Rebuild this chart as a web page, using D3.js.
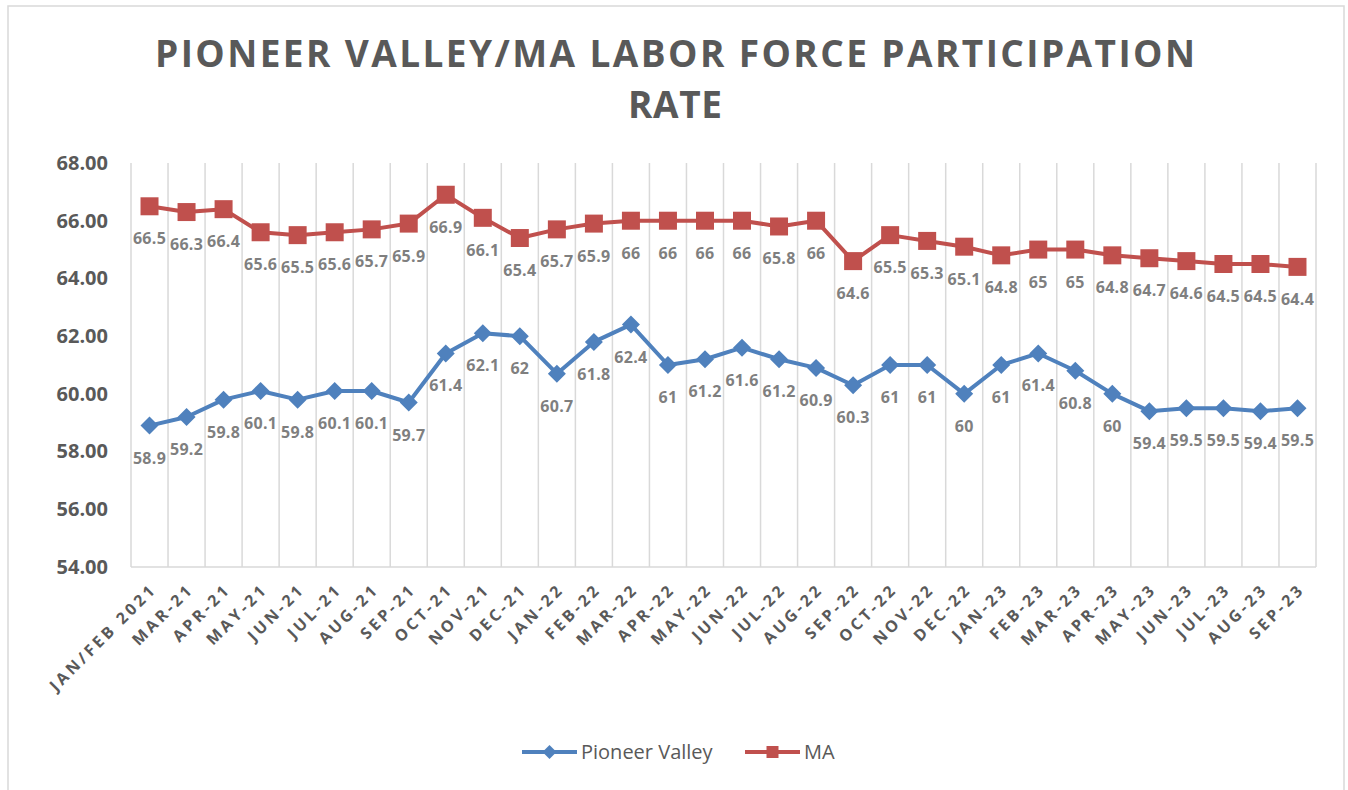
<!DOCTYPE html>
<html>
<head>
<meta charset="utf-8">
<script src="https://cdn.jsdelivr.net/npm/d3@7"></script>
<style>
  body { margin: 0; background: #fff; }
  svg { display: block; font-family: "Open Sans", "Noto Sans", sans-serif; }
</style>
</head>
<body>
<svg id="chart" width="1348" height="790"></svg>
<script>
// data
var months = ["JAN/FEB 2021", "MAR-21", "APR-21", "MAY-21", "JUN-21", "JUL-21", "AUG-21", "SEP-21",
  "OCT-21", "NOV-21", "DEC-21", "JAN-22", "FEB-22", "MAR-22", "APR-22", "MAY-22", "JUN-22", "JUL-22",
  "AUG-22", "SEP-22", "OCT-22", "NOV-22", "DEC-22", "JAN-23", "FEB-23", "MAR-23", "APR-23", "MAY-23",
  "JUN-23", "JUL-23", "AUG-23", "SEP-23"];
var pioneerValley = [58.9, 59.2, 59.8, 60.1, 59.8, 60.1, 60.1, 59.7, 61.4, 62.1, 62, 60.7, 61.8, 62.4,
  61, 61.2, 61.6, 61.2, 60.9, 60.3, 61, 61, 60, 61, 61.4, 60.8, 60, 59.4, 59.5, 59.5, 59.4, 59.5];
var ma = [66.5, 66.3, 66.4, 65.6, 65.5, 65.6, 65.7, 65.9, 66.9, 66.1, 65.4, 65.7, 65.9, 66, 66, 66,
  66, 65.8, 66, 64.6, 65.5, 65.3, 65.1, 64.8, 65, 65, 64.8, 64.7, 64.6, 64.5, 64.5, 64.4];
var yTicks = [54, 56, 58, 60, 62, 64, 66, 68];
var titleLines = ["PIONEER VALLEY/MA LABOR FORCE PARTICIPATION", "RATE"];

var svg = d3.select("#chart");
var textDark = "#595959", labelGrey = "#7f7f7f", gridCol = "#d9d9d9";
var blue = "#4f81bd", red = "#c0504d";

// outer chart border
svg.append("rect")
  .attr("x", 8).attr("y", 6).attr("width", 1336).attr("height", 800)
  .attr("fill", "none").attr("stroke", gridCol).attr("stroke-width", 1.5);

// title
svg.append("text")
  .attr("x", 675).attr("y", 67)
  .attr("text-anchor", "middle")
  .attr("font-size", 37).attr("font-weight", "bold").attr("fill", textDark)
  .attr("textLength", 1040).attr("lengthAdjust", "spacing")
  .text(titleLines[0]);
svg.append("text")
  .attr("x", 675).attr("y", 118)
  .attr("text-anchor", "middle")
  .attr("font-size", 37).attr("font-weight", "bold").attr("fill", textDark)
  .attr("textLength", 94).attr("lengthAdjust", "spacing")
  .text(titleLines[1]);

var x = d3.scaleBand().domain(months).range([131, 1316]);
var y = d3.scaleLinear().domain([54, 68]).range([567, 163]);
var cx = function(d, i) { return x(months[i]) + x.bandwidth() / 2; };

// vertical gridlines at category edges
var edges = months.map(function(m) { return x(m); }).concat([x.range()[1]]);
svg.append("g")
  .selectAll("line")
  .data(edges)
  .enter().append("line")
    .attr("x1", function(d) { return d; }).attr("x2", function(d) { return d; })
    .attr("y1", y(68)).attr("y2", y(54))
    .attr("stroke", gridCol).attr("stroke-width", 1.5);
svg.append("line")
  .attr("x1", x.range()[0]).attr("x2", x.range()[1])
  .attr("y1", y(54)).attr("y2", y(54))
  .attr("stroke", gridCol).attr("stroke-width", 1.5);

// y axis
var yAxis = svg.append("g")
  .attr("transform", "translate(112,0)")
  .call(d3.axisLeft(y).tickValues(yTicks).tickFormat(d3.format(".2f")).tickSize(0));
yAxis.select(".domain").remove();
yAxis.selectAll("text")
  .attr("x", -4)
  .attr("font-family", "'Open Sans', sans-serif")
  .attr("font-size", 20).attr("font-weight", "bold").attr("fill", textDark);

// x axis, rotated labels
var xAxis = svg.append("g")
  .attr("transform", "translate(0," + (y(54) + 18) + ")")
  .call(d3.axisBottom(x).tickSize(0));
xAxis.select(".domain").remove();
xAxis.selectAll("text")
  .attr("font-family", "'Open Sans', sans-serif")
  .attr("font-size", 16).attr("font-weight", "bold").attr("fill", textDark)
  .attr("letter-spacing", 3.2)
  .style("text-anchor", "end")
  .attr("x", 2).attr("y", 0).attr("dy", "0.6em")
  .attr("transform", "rotate(-45)");

var line = d3.line()
  .x(cx)
  .y(function(d) { return y(d); });

function drawSeries(values, color, marker) {
  var g = svg.append("g");
  g.append("path")
    .datum(values)
    .attr("fill", "none").attr("stroke", color)
    .attr("stroke-width", 4).attr("stroke-linejoin", "round")
    .attr("d", line);
  g.selectAll("path.mk")
    .data(values)
    .enter().append("path")
      .attr("class", "mk")
      .attr("transform", function(d, i) { return "translate(" + cx(d, i) + "," + y(d) + ")"; })
      .attr("d", marker)
      .attr("fill", color);
  g.selectAll("text")
    .data(values)
    .enter().append("text")
      .attr("x", cx).attr("y", function(d) { return y(d) + 38; })
      .attr("text-anchor", "middle")
      .attr("font-size", 16).attr("font-weight", "bold").attr("fill", labelGrey)
      .attr("letter-spacing", 0.3)
      .text(function(d) { return d; });
}

var squareMark = "M-9,-9H9V9H-9Z";
var diamondMark = "M0,-9L9,0L0,9L-9,0Z";
drawSeries(ma, red, squareMark);
drawSeries(pioneerValley, blue, diamondMark);

// legend
var legendItems = [
  {name: "Pioneer Valley", color: blue, mark: "M0,-7L7,0L0,7L-7,0Z", x0: 522},
  {name: "MA", color: red, mark: "M-6,-6H6V6H-6Z", x0: 745}
];
var legend = svg.append("g")
  .selectAll("g")
  .data(legendItems)
  .enter().append("g")
    .attr("transform", function(d) { return "translate(" + d.x0 + ",752)"; });
legend.append("line")
  .attr("x1", 0).attr("x2", 55)
  .attr("stroke", function(d) { return d.color; }).attr("stroke-width", 4);
legend.append("path")
  .attr("transform", "translate(27.5,0)")
  .attr("d", function(d) { return d.mark; })
  .attr("fill", function(d) { return d.color; });
legend.append("text")
  .attr("x", 59).attr("dy", "0.35em")
  .attr("font-size", 20).attr("fill", textDark)
  .text(function(d) { return d.name; });
</script>
</body>
</html>
